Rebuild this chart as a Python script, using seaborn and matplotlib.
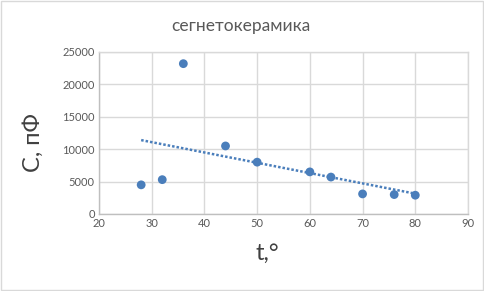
import matplotlib
matplotlib.use("Agg")
import matplotlib.pyplot as plt
import seaborn as sns
import pandas as pd

temps = [28, 32, 36, 44, 50, 60, 64, 70, 76, 80]
capacitance = [4500, 5300, 23200, 10500, 8000, 6500, 5700, 3100, 3000, 2900]
x_ticks = [20, 30, 40, 50, 60, 70, 80, 90]
y_ticks = [0, 5000, 10000, 15000, 20000, 25000]

df = pd.DataFrame({"t": temps, "C": capacitance})

sns.set_theme(style="white")
plt.rcParams['font.family'] = ['Lato', 'DejaVu Sans']

fig = plt.figure(figsize=(4.84, 2.91), dpi=100)
ax = fig.add_axes([99/484, 1-214/291, (468-99)/484, (214-52)/291])

blue = "#4a7ebb"
sns.regplot(data=df, x="t", y="C", ax=ax, ci=None, truncate=True,
            scatter_kws=dict(s=40, color="#4a7ebb", edgecolor="none", alpha=1, zorder=3),
            line_kws=dict(color=blue, lw=1.8, linestyle=(0, (1, 0.8)), zorder=2))

ax.set_xlim(20, 90)
ax.set_ylim(0, 25000)
ax.set_xticks(x_ticks)
ax.set_yticks(y_ticks)
ax.grid(True, color="#d9d9d9", lw=1)
ax.set_axisbelow(True)
for s in ax.spines.values():
    s.set_color("#d9d9d9")
    s.set_linewidth(1)
ax.spines['left'].set_color("#bfbfbf")
ax.spines['bottom'].set_color("#bfbfbf")
ax.tick_params(axis='both', labelsize=8, colors="#595959", length=0, pad=3)
ax.set_xlabel("")
ax.set_ylabel("")
fig.text(267/484, 1-253/291, "t,°", ha="center", va="center", fontsize=17, color="#404040")
fig.text(33/484, 1-143/291, "С, пФ", ha="center", va="center", rotation=90,
         fontsize=17, color="#404040")
fig.text(241/484, 1-26/291, "сегнетокерамика", ha="center", va="center",
         fontsize=12.5, color="#595959")

fig.patches.append(plt.Rectangle((0.002, 0.003), 0.995, 0.994, transform=fig.transFigure,
                                 fill=False, edgecolor="#d9d9d9", lw=1))
fig.savefig("out.png", dpi=100)
